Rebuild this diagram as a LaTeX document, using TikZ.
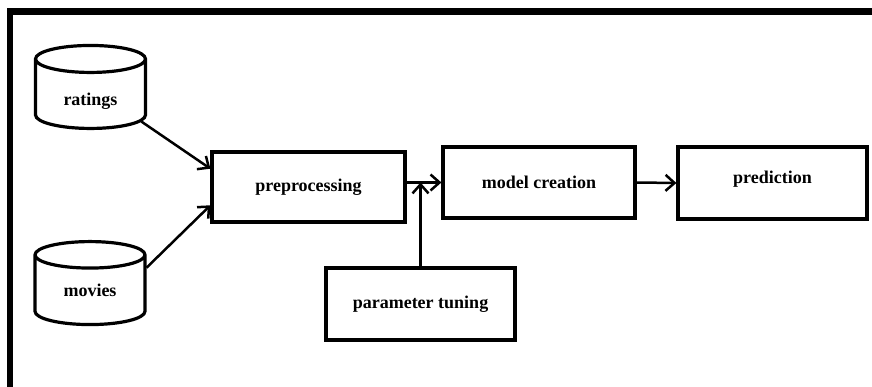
\documentclass[tikz,border=0pt]{standalone}
\usepackage{fontspec}
\setmainfont{Liberation Serif}
\usetikzlibrary{arrows.meta,calc,shapes.geometric}

\begin{document}
\begin{tikzpicture}[x=1pt, y=-1pt,
    every node/.style={font=\fontsize{18}{21}\selectfont\bfseries},
    stepbox/.style={draw, line width=3.2pt, rectangle, inner sep=0pt},
    datastore/.style={draw, line width=3.2pt, cylinder, shape border rotate=90,
      aspect=0.5, minimum width=110pt, minimum height=83pt, inner sep=0pt},
    flow/.style={line width=2.5pt, -{Straight Barb[length=9pt, width=16pt, line width=2.5pt]}}]
      \useasboundingbox (0, 0) rectangle (872, 387);

      % frame
      \draw[line width=6.5pt] (10, 387) -- (10, 11.5) -- (872, 11.5);

      % data sources
      \node[datastore, text height=26pt] (ratings) at (90.5, 94.5) {ratings};
      \node[datastore, text height=12pt] (movies) at (90, 290.5) {movies};

      % steps
      \node[stepbox, minimum width=193pt, minimum height=70pt] (prep) at (308.5, 187) {preprocessing};
      \node[stepbox, minimum width=192pt, minimum height=71pt] (model) at (539, 182.5) {model creation};
      \node[stepbox, minimum width=189pt, minimum height=72pt, text depth=12pt] (pred) at (772.5, 183) {prediction};
      \node[stepbox, minimum width=189pt, minimum height=72pt] (tune) at (420.5, 304) {parameter tuning};

      \draw[flow] (ratings.-28) -- ($(prep.north west)!0.25!(prep.south west)$);
      \draw[flow] (movies.22) -- ($(prep.north west)!0.75!(prep.south west)$);
      \draw[flow] (prep.east |- model.west) -- (model.west);
      \draw[flow] (tune.north) -- (tune.north |- model.west);
      \draw[flow] (model.east) -- (pred.west);
\end{tikzpicture}
\end{document}
